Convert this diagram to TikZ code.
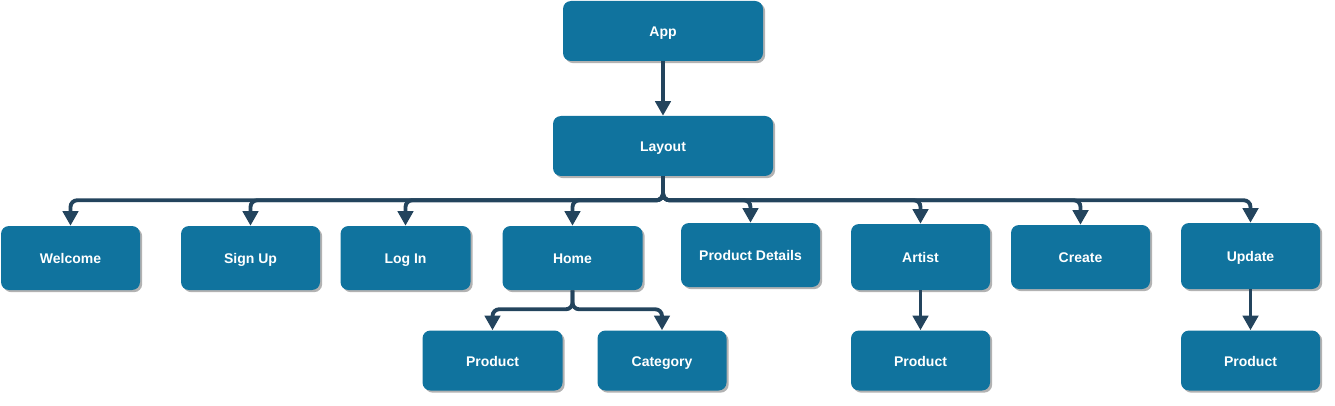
\documentclass[tikz,border=0pt]{standalone}
\usepackage{fontspec}
\setmainfont{Liberation Sans}
\usetikzlibrary{arrows.meta,shadows}
\definecolor{boxblue}{HTML}{10739E}
\definecolor{linedark}{HTML}{23445D}
\tikzset{
  box/.style={rectangle, rounded corners=6pt, fill=boxblue, draw=none,
    text=white, font=\bfseries\fontsize{10.5pt}{12pt}\selectfont,
    text height=9.2pt, text depth=0.7pt,
    drop shadow={shadow xshift=1.6pt, shadow yshift=-1.6pt, opacity=0.3, fill=black},
    inner sep=0pt, align=center},
  conn/.style={draw=linedark, line width=2.9pt, rounded corners=5pt,
    -{Triangle[length=11pt,width=11.5pt]}},
}
\newcommand{\bx}[6]{\node[box, minimum width=#4*0.75pt, minimum height=#5*0.75pt] (#1) at (#2,#3) {#6};}
\begin{document}
\begin{tikzpicture}[x=0.75pt,y=-0.75pt]
\useasboundingbox (0,0) rectangle (1335,406);
\bx{app}{663}{31}{200}{60}{App}
\bx{layout}{663}{146}{220}{60}{Layout}
\bx{welcome}{70.5}{258}{139}{64}{Welcome}
\bx{signup}{250.5}{258}{139}{64}{Sign Up}
\bx{login}{405.5}{258}{130}{64}{Log In}
\bx{home}{572.5}{258}{140}{64}{Home}
\bx{pdetails}{750.5}{255}{139}{64}{Product Details}
\bx{artist}{920.5}{257}{139}{66}{Artist}
\bx{create}{1080.5}{257}{139}{64}{Create}
\bx{update}{1250.5}{256}{139}{66}{Update}
\bx{hproduct}{492.5}{360.5}{140}{60}{Product}
\bx{category}{662}{360.5}{129}{60}{Category}
\bx{aproduct}{920.5}{360.5}{139}{60}{Product}
\bx{uproduct}{1250.5}{360.5}{139}{60}{Product}

\draw[conn] (app) -- (layout);
\foreach \t in {welcome,signup,login,home,pdetails,artist,create,update}
  \draw[conn] (layout.south) -- ++(0,24) -| (\t.north);
\draw[conn] (home.south) -- ++(0,19) -| (hproduct.north);
\draw[conn] (home.south) -- ++(0,19) -| (category.north);
\draw[conn] (artist) -- (aproduct);
\draw[conn] (update) -- (uproduct);
\end{tikzpicture}
\end{document}
